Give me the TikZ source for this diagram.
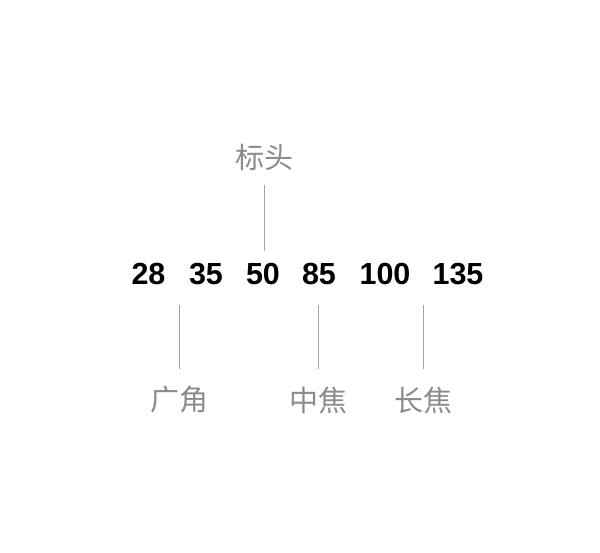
\documentclass[tikz,border=0pt]{standalone}
\usepackage{fontspec}
\setmainfont{Liberation Sans}
\newfontfamily\cjk{Noto Sans CJK SC}
\definecolor{labelgray}{RGB}{140,140,140}
\definecolor{leadgray}{RGB}{165,165,165}
\tikzset{
  focal/.style={font=\fontsize{30.5}{30.5}\selectfont\bfseries, anchor=base},
  kind/.style={font=\fontsize{29}{29}\selectfont\cjk, text=labelgray},
  lead/.style={draw=leadgray, line width=0.9pt}
}
\begin{document}
\begin{tikzpicture}[x=1pt,y=-1pt]
\tikzstyle{every node}+=[inner sep=0pt]
\useasboundingbox [fill=white] (0,0) rectangle (600,553);
% focal lengths
\node [focal] (n28) at (148.5,285) {28};
\node [focal] (n35) at (206,285) {35};
\node [focal] (n50) at (263,285) {50};
\node [focal] (n85) at (319,285) {85};
\node [focal] (n100) at (385,285) {100};
\node [focal] (n135) at (458,285) {135};
% labels
\node [kind] (bt) at (264.5,157) {标头};
\node [kind] (gj) at (179,400) {广角};
\node [kind] (zj) at (318.5,400) {中焦};
\node [kind] (cj) at (423,400) {长焦};
\coordinate (gjtop) at (179,305);
\coordinate (cjtop) at (423,305);
% leaders
\draw [lead, shorten <=14pt, shorten >=13pt] (bt.south) -- (bt.south |- n50.north);
\draw [lead, shorten <=17pt] (gj.north) -- (gjtop);
\draw [lead, shorten <=17pt, shorten >=20pt] (zj.north) -- (zj.north |- n85.base);
\draw [lead, shorten <=17pt] (cj.north) -- (cjtop);
\end{tikzpicture}
\end{document}
